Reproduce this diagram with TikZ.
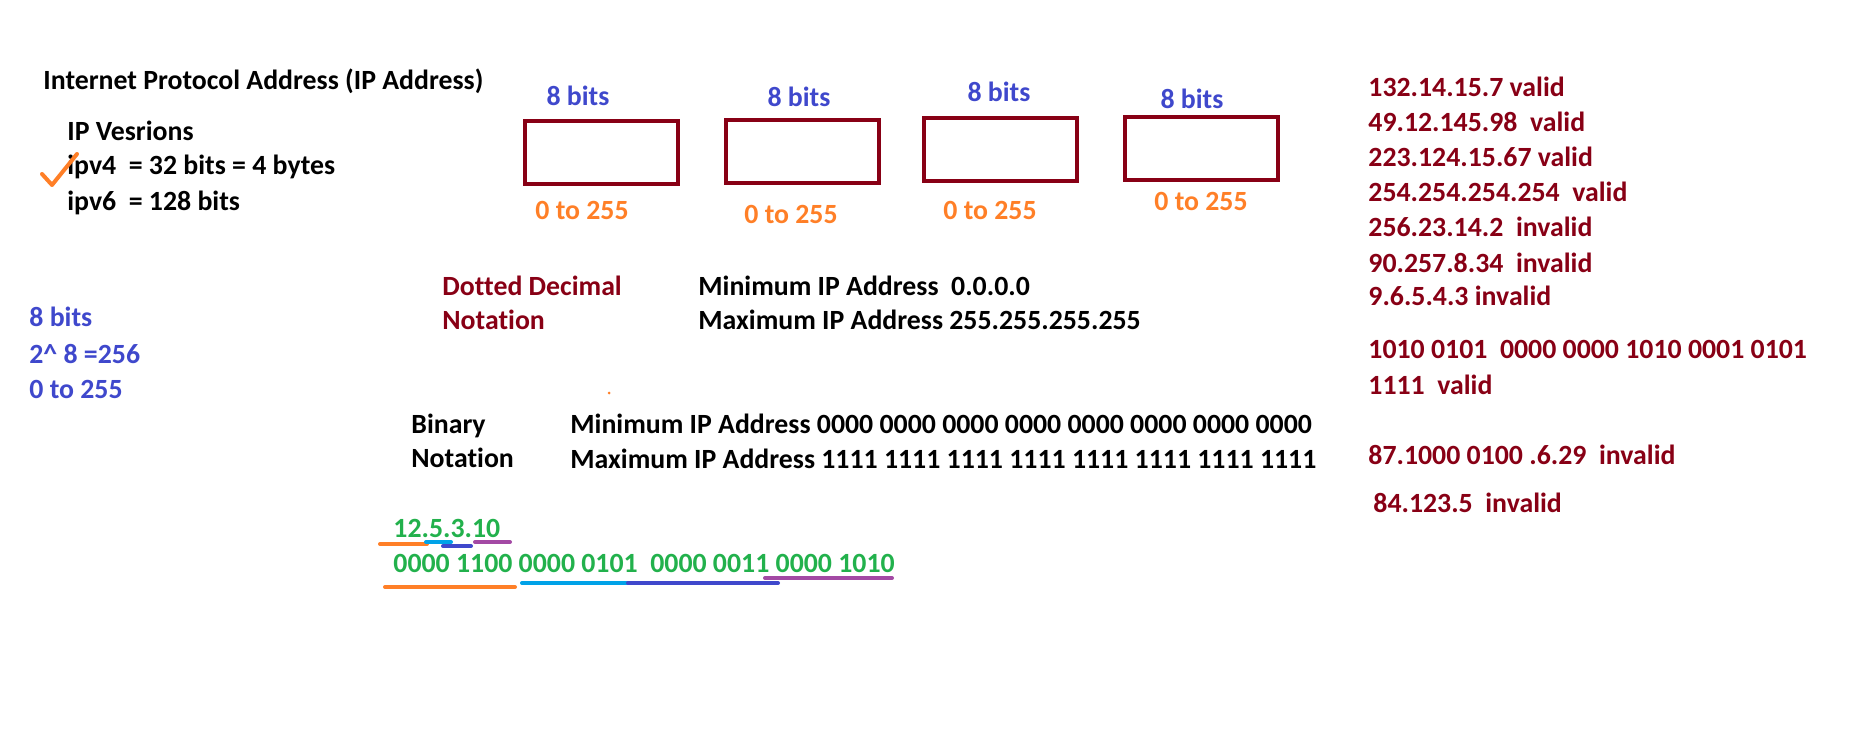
\documentclass[tikz,border=0pt]{standalone}
\usepackage{fontspec}
\setmainfont{Carlito}[Ligatures=NoCommon]
\usetikzlibrary{positioning}
\definecolor{maroon}{RGB}{136,0,21}
\definecolor{indigo}{RGB}{63,72,204}
\definecolor{tangerine}{RGB}{255,127,39}
\definecolor{leaf}{RGB}{34,177,76}
\definecolor{sky}{RGB}{0,162,232}
\definecolor{plum}{RGB}{163,73,164}
\tikzset{
  txt/.style={anchor=base west, inner sep=0pt, font=\bfseries\fontsize{13.9pt}{16pt}\selectfont},
  lbl/.style={txt, anchor=base},
  octet/.style={draw=maroon, line width=2pt, minimum width=76.5pt, minimum height=31.5pt, inner sep=0pt},
  underline/.style={line width=2pt, line cap=round}
}
\begin{document}
\begin{tikzpicture}[x=0.5pt,y=-0.5pt]
  \useasboundingbox (0,0) rectangle (1852,743);
  % left column
  \node[txt] (title) at (43,90) {Internet Protocol Address (IP Address)};
  \node[txt] (vers) at (67,141) {IP Vesrions};
  \node[txt] (v4) at (67,175) {ipv4~ = 32 bits = 4 bytes};
  \node[txt] (v6) at (67,211) {ipv6~ = 128 bits};
  \draw[tangerine, line width=2pt, line cap=round, line join=round] (42,174) -- (52,185) -- (77,154);
  \node[txt, indigo] (bits) at (29,327) {8 bits};
  \node[txt, indigo] (pow) at (29,363) {2\^{} 8 =256};
  \node[txt, indigo] (range) at (29,398) {0 to 255};
  % four octets
  \node[octet] (b1) at (601.5,152.5) {};
  \node[octet] (b2) at (802.5,152) {};
  \node[octet] (b3) at (1000,149.5) {};
  \node[octet] (b4) at (1201,148.5) {};
  \node[lbl, indigo] (w1) at (578,106) {8 bits};
  \node[lbl, indigo] (w2) at (799,107) {8 bits};
  \node[lbl, indigo] (w3) at (999,102) {8 bits};
  \node[lbl, indigo] (w4) at (1192,109) {8 bits};
  \node[lbl, tangerine] (r1) at (582,220) {0 to 255};
  \node[lbl, tangerine] (r2) at (791,224) {0 to 255};
  \node[lbl, tangerine] (r3) at (990,220) {0 to 255};
  \node[lbl, tangerine] (r4) at (1201,211) {0 to 255};
  % notations
  \node[txt, maroon] (dd1) at (442,295) {Dotted Decimal};
  \node[txt, maroon] (dd2) at (442,329) {Notation};
  \node[txt] (dmin) at (698,295) {Minimum IP Address~ 0.0.0.0};
  \node[txt] (dmax) at (698,329) {Maximum IP Address 255.255.255.255};
  \fill[tangerine] (609,393) circle (1.5);
  \node[txt] (bn1) at (411,433) {Binary};
  \node[txt] (bn2) at (411,467) {Notation};
  \node[txt] (bmin) at (570,433) {Minimum IP Address 0000 0000 0000 0000 0000 0000 0000 0000};
  \node[txt] (bmax) at (570,468) {Maximum IP Address 1111 1111 1111 1111 1111 1111 1111 1111};
  % example
  \node[txt, leaf] (ex) at (393,537) {12.5.3.10};
  \node[txt, leaf] (exbin) at (393,572) {0000 1100 0000 0101~ 0000 0011 0000 1010};
  \draw[underline, tangerine] (380,544) -- (427,544);
  \draw[underline, sky] (426,542) -- (451,542);
  \draw[underline, indigo] (443,546) -- (471,546);
  \draw[underline, plum] (475,542) -- (510,542);
  \draw[underline, tangerine] (385,587) -- (515,587);
  \draw[underline, sky] (522,583) -- (628,583);
  \draw[underline, indigo] (628,583) -- (778,583);
  \draw[underline, plum] (765,578) -- (892,578);
  % right column
  \node[txt, maroon] (a1) at (1368,97) {132.14.15.7 valid};
  \node[txt, maroon] (a2) at (1368,132) {49.12.145.98~ valid};
  \node[txt, maroon] (a3) at (1368,167) {223.124.15.67 valid};
  \node[txt, maroon] (a4) at (1368,202) {254.254.254.254~ valid};
  \node[txt, maroon] (a5) at (1368,237) {256.23.14.2~ invalid};
  \node[txt, maroon] (a6) at (1368,272) {90.257.8.34~ invalid};
  \node[txt, maroon] (a7) at (1368,306) {9.6.5.4.3 invalid};
  \node[txt, maroon] (a8) at (1368,358) {1010 0101~ 0000 0000 1010 0001 0101};
  \node[txt, maroon] (a9) at (1368,394) {1111~ valid};
  \node[txt, maroon] (a10) at (1368,464) {87.1000 0100 .6.29~ invalid};
  \node[txt, maroon] (a11) at (1373,512) {84.123.5~ invalid};
\end{tikzpicture}
\end{document}
